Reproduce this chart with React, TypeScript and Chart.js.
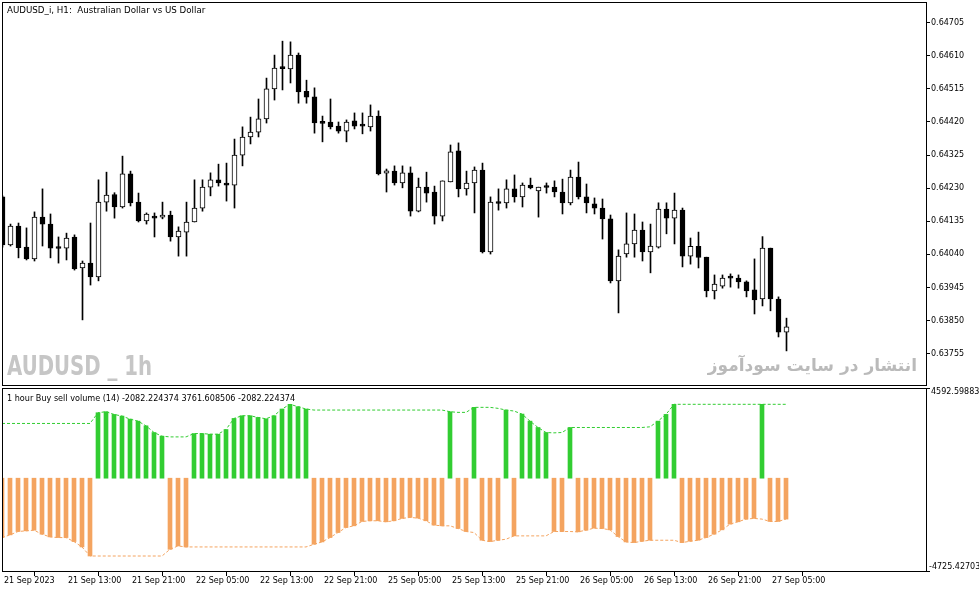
import React, { useEffect, useRef } from "react";
import { Chart, registerables } from "chart.js";

Chart.register(...registerables);

// ---- Price data (AUDUSD_i, H1), one entry per hourly bar ----
const opens = [
  0.64205, 0.64067, 0.64121, 0.64061, 0.64027, 0.64147, 0.64127, 0.6406, 0.64058, 0.6409,
  0.64001, 0.64015, 0.63975, 0.6419, 0.64212, 0.64176, 0.64271, 0.6419, 0.64136, 0.6415,
  0.64147, 0.64153, 0.6409, 0.64104, 0.64133, 0.64173, 0.64233, 0.64254, 0.64245, 0.64239,
  0.64325, 0.64377, 0.64391, 0.64429, 0.64515, 0.64576, 0.64572, 0.64612, 0.64508, 0.64492,
  0.64419, 0.6442, 0.64408, 0.64394, 0.64423, 0.6441, 0.64406, 0.64437, 0.64273, 0.64279,
  0.64245, 0.64274, 0.64164, 0.64233, 0.64219, 0.6415, 0.64248, 0.64337, 0.64228, 0.64245,
  0.64282, 0.64047, 0.64189, 0.64188, 0.64228, 0.64205, 0.64239, 0.64222, 0.64234, 0.64233,
  0.64219, 0.64188, 0.64262, 0.64205, 0.64185, 0.64173, 0.64142, 0.63964, 0.64041, 0.6407,
  0.6411, 0.64047, 0.64061, 0.6417, 0.64144, 0.64167, 0.64035, 0.64063, 0.64032, 0.63935,
  0.63949, 0.63975, 0.63972, 0.63961, 0.63938, 0.63912, 0.64058, 0.63912, 0.63817,
];
const highs = [
  0.64208, 0.64127, 0.6413, 0.64116, 0.64162, 0.64228, 0.64156, 0.6409, 0.64101, 0.64096,
  0.64021, 0.6413, 0.64254, 0.64276, 0.64217, 0.64322, 0.64279, 0.64216, 0.64159, 0.64159,
  0.6419, 0.64164, 0.64119, 0.6419, 0.64254, 0.64254, 0.64274, 0.64299, 0.64302, 0.64371,
  0.64406, 0.64434, 0.64486, 0.64546, 0.64612, 0.64652, 0.6465, 0.64618, 0.6454, 0.64518,
  0.64437, 0.64486, 0.6442, 0.64426, 0.64446, 0.64446, 0.64469, 0.64452, 0.64285, 0.64294,
  0.64294, 0.64291, 0.64259, 0.64276, 0.64236, 0.64251, 0.64354, 0.6436, 0.64279, 0.64291,
  0.64302, 0.64205, 0.64228, 0.64254, 0.64268, 0.64245, 0.64259, 0.64233, 0.64245, 0.64251,
  0.64256, 0.64282, 0.64305, 0.64242, 0.64202, 0.64199, 0.64153, 0.64053, 0.64159, 0.64156,
  0.64133, 0.64127, 0.64188, 0.64188, 0.64216, 0.64173, 0.64087, 0.64104, 0.64032, 0.63981,
  0.63981, 0.63984, 0.63981, 0.63964, 0.64027, 0.64091, 0.64058, 0.63918, 0.63857,
];
const lows = [
  0.64061, 0.64064, 0.6403, 0.64024, 0.64021, 0.64064, 0.6403, 0.64015, 0.64024, 0.63995,
  0.63852, 0.63952, 0.63964, 0.64164, 0.64144, 0.64173, 0.64179, 0.64133, 0.64127, 0.6409,
  0.64142, 0.64078, 0.64035, 0.64035, 0.64133, 0.64164, 0.64208, 0.64236, 0.64193, 0.64173,
  0.64294, 0.64357, 0.64377, 0.64417, 0.64483, 0.64512, 0.64532, 0.64474, 0.64474, 0.64388,
  0.64363, 0.644, 0.64388, 0.64363, 0.644, 0.64386, 0.64394, 0.64268, 0.64219, 0.64239,
  0.64231, 0.6415, 0.64162, 0.6419, 0.64127, 0.64136, 0.64248, 0.64205, 0.6421, 0.64159,
  0.64044, 0.64041, 0.64167, 0.64173, 0.6419, 0.64176, 0.64228, 0.64147, 0.64216, 0.64205,
  0.64156, 0.64182, 0.64199, 0.64159, 0.64156, 0.64084, 0.63958, 0.63872, 0.64032, 0.64032,
  0.64021, 0.63987, 0.64058, 0.64099, 0.6407, 0.64004, 0.64012, 0.64001, 0.63918, 0.63912,
  0.63943, 0.63946, 0.63943, 0.63918, 0.63869, 0.63892, 0.63878, 0.63803, 0.63763,
];
const closes = [
  0.64067, 0.64121, 0.64059, 0.64027, 0.64147, 0.64127, 0.64058, 0.64057, 0.64087, 0.63998,
  0.64015, 0.63975, 0.6419, 0.6421, 0.64176, 0.64271, 0.64188, 0.64136, 0.64156, 0.64144,
  0.64153, 0.6409, 0.64107, 0.64133, 0.64173, 0.64233, 0.64254, 0.64245, 0.64239, 0.64325,
  0.64377, 0.64391, 0.64429, 0.64515, 0.64575, 0.64573, 0.64612, 0.64506, 0.64491, 0.64417,
  0.64416, 0.64406, 0.64394, 0.6442, 0.64408, 0.64408, 0.64437, 0.64271, 0.6428, 0.64245,
  0.64274, 0.64164, 0.64233, 0.64216, 0.6415, 0.64251, 0.64334, 0.64228, 0.64245, 0.64282,
  0.64047, 0.6419, 0.64186, 0.64228, 0.64205, 0.64239, 0.64231, 0.64233, 0.64232, 0.64219,
  0.64188, 0.64262, 0.64205, 0.64188, 0.64173, 0.64142, 0.63964, 0.64035, 0.6407, 0.6411,
  0.64047, 0.64064, 0.6417, 0.64144, 0.64167, 0.64035, 0.64063, 0.64031, 0.63935, 0.63955,
  0.63972, 0.63972, 0.63961, 0.63935, 0.63909, 0.64058, 0.63912, 0.63817, 0.63832,
];

// ---- Indicator: 1 hour Buy sell volume (14) ----
const buyLine = [
  2787, 2787, 2787, 2787, 2787, 2787, 2787, 2787, 2787, 2787, 2787, 2787,
  3334, 3385, 3248, 3163, 3009, 2906, 2667, 2326, 2138,
  2103, 2103, 2103,
  2274, 2274, 2240, 2240, 2479, 3043, 3180, 3180, 3094, 3026, 3180, 3522, 3762, 3641, 3522,
  3470, 3470, 3470, 3470, 3470, 3470, 3470, 3470, 3470, 3470, 3470, 3470, 3470, 3470, 3470, 3470, 3470,
  3385, 3351, 3351, 3607, 3607, 3607, 3556, 3470, 3419, 3265, 2906, 2582, 2326, 2308, 2326, 2582,
  2582, 2582, 2582, 2582, 2582, 2582, 2582, 2582, 2582,
  2616, 2906, 3248, 3762,
  3762, 3762, 3762, 3762, 3762, 3762, 3762, 3762, 3762, 3762, 3762, 3762, 3762, 3761.608506,
];
const sellLine = [
  -3023, -2886, -2715, -2681, -2647, -2852, -2989, -3023, -3023, -3228, -3501, -3962,
  -3962, -3962, -3962, -3962, -3962, -3962, -3962, -3962, -3962,
  -3621, -3450, -3501,
  -3501, -3501, -3501, -3501, -3501, -3501, -3501, -3501, -3501, -3501, -3501, -3501, -3501, -3501, -3501,
  -3364, -3245, -3023, -2766, -2510, -2425, -2203, -2168, -2168, -2220, -2168, -2049, -1997, -2032, -2168, -2390, -2425,
  -2425, -2561, -2715, -2766, -3159, -3228, -3159, -3108, -2937, -2937, -2937, -2937, -2937,
  -2715, -2715, -2715, -2732, -2647, -2544, -2561, -2630, -2971, -3245, -3279, -3211, -3159,
  -3159, -3159, -3159,
  -3279, -3211, -3159, -3023, -2852, -2630, -2339, -2220, -2083, -2049, -2083, -2203, -2203, -2082.224374,
];
const histogram = [
  -3023, -2886, -2715, -2681, -2647, -2852, -2989, -3023, -3023, -3228, -3501, -3962,
  3334, 3385, 3248, 3163, 3009, 2906, 2667, 2326, 2138,
  -3621, -3450, -3501,
  2274, 2274, 2240, 2240, 2479, 3043, 3180, 3180, 3094, 3026, 3180, 3522, 3762, 3641, 3522,
  -3364, -3245, -3023, -2766, -2510, -2425, -2203, -2168, -2168, -2220, -2168, -2049, -1997, -2032, -2168, -2390, -2425,
  3385, -2561, -2715, 3607, -3159, -3228, -3159, 3470, -2937, 3265, 2906, 2582, 2326,
  -2715, -2715, 2582, -2732, -2647, -2544, -2561, -2630, -2971, -3245, -3279, -3211, -3159,
  2906, 3248, 3762,
  -3279, -3211, -3159, -3023, -2852, -2630, -2339, -2220, -2083, -2049, 3762, -2203, -2203, -2082.224374,
];

// ---- Axis ticks ----
const timeTickIndex = [0, 8, 16, 24, 32, 40, 48, 56, 64, 72, 80, 88, 96];
const timeTickLabels = [
  "21 Sep 2023", "21 Sep 13:00", "21 Sep 21:00", "22 Sep 05:00", "22 Sep 13:00",
  "22 Sep 21:00", "25 Sep 05:00", "25 Sep 13:00", "25 Sep 21:00", "26 Sep 05:00",
  "26 Sep 13:00", "26 Sep 21:00", "27 Sep 05:00",
];
const priceTicks = [
  0.64705, 0.6461, 0.64515, 0.6442, 0.64325, 0.6423, 0.64135, 0.6404, 0.63945, 0.6385, 0.63755,
];
const volumeMax = 4592.59883;
const volumeMin = -4725.42703;

const PRICE_MIN = 0.636651;
const PRICE_MAX = 0.647644;

const GREEN = "#32CD32";
const ORANGE = "#F4A460";
const tickFont = { family: "DejaVu Sans", size: 8 };

const borderPlugin = {
  id: "panelBorder",
  afterDraw(chart: any) {
    const { ctx, chartArea } = chart;
    const l = Math.round(chartArea.left);
    const t = Math.round(chartArea.top);
    const r = Math.round(chartArea.right);
    const b = Math.round(chartArea.bottom);
    ctx.save();
    ctx.strokeStyle = "#000";
    ctx.lineWidth = 1;
    ctx.strokeRect(l + 0.5, t + 0.5, r - l, b - t);
    ctx.restore();
  },
};

// the zero-width second price axis shares the label column of the first one
const labelColumnPlugin = {
  id: "labelColumn",
  afterLayout(chart: any) {
    const s = chart.scales.y2;
    if (s) s.right = s.left + 53;
  },
};

const zeroPad = (s: any) => {
  s.paddingTop = 0;
  s.paddingBottom = 0;
  s.paddingLeft = 0;
  s.paddingRight = 0;
};

export default function App() {
  const mainRef = useRef<HTMLCanvasElement>(null);
  const subRef = useRef<HTMLCanvasElement>(null);

  useEffect(() => {
    document.body.style.margin = "0";
    const idx = opens.map((_, i) => i);

    const main = new Chart(mainRef.current as HTMLCanvasElement, {
      type: "bar",
      data: {
        datasets: [
          {
            type: "bar",
            data: idx.map((i) => ({ x: i, y: [opens[i], closes[i]] })) as any,
            backgroundColor: (c: any) =>
              closes[c.dataIndex] >= opens[c.dataIndex] ? "#ffffff" : "#000000",
            borderColor: "#000000",
            borderWidth: 1,
            borderSkipped: false,
            barThickness: 5,
            minBarLength: 2,
            grouped: false,
            order: 0,
          } as any,
          {
            type: "bar",
            data: idx.map((i) => ({ x: i, y: [lows[i], highs[i]] })) as any,
            backgroundColor: "#000000",
            borderWidth: 0,
            barThickness: 1,
            grouped: false,
            order: 1,
          } as any,
        ],
      },
      options: {
        responsive: false,
        animation: false,
        events: [],
        layout: { padding: { left: 2, top: 2, right: 0, bottom: 1 } },
        plugins: { legend: { display: false }, tooltip: { enabled: false } },
        scales: {
          x: {
            type: "linear",
            display: false,
            offset: false,
            min: -0.0625,
            max: 115.4375,
          },
          y: {
            type: "linear",
            position: "right",
            min: PRICE_MIN,
            max: PRICE_MAX,
            afterFit: (s: any) => {
              s.width = 53;
              zeroPad(s);
            },
            afterBuildTicks: (s: any) => {
              s.ticks = priceTicks.map((v) => ({ value: v }));
            },
            ticks: {
              autoSkip: false,
              padding: 1,
              color: "#000",
              font: tickFont,
              callback: (v: any) => Number(v).toFixed(5),
            },
            grid: { drawOnChartArea: false, drawTicks: true, tickLength: 4, color: "#000" },
            border: { display: false },
          },
        } as any,
      },
      plugins: [borderPlugin],
    });

    const sub = new Chart(subRef.current as HTMLCanvasElement, {
      type: "bar",
      data: {
        datasets: [
          {
            type: "bar",
            data: idx.map((i) => ({ x: i, y: histogram[i] })) as any,
            backgroundColor: (c: any) => (histogram[c.dataIndex] >= 0 ? GREEN : ORANGE),
            borderWidth: 0,
            barThickness: 4,
            grouped: false,
            order: 0,
            yAxisID: "y",
          } as any,
          {
            type: "line",
            data: idx.map((i) => ({ x: i, y: buyLine[i] })) as any,
            borderColor: GREEN,
            borderWidth: 1,
            borderDash: [3, 2],
            pointRadius: 0,
            tension: 0,
            order: 1,
            yAxisID: "y",
          } as any,
          {
            type: "line",
            data: idx.map((i) => ({ x: i, y: sellLine[i] })) as any,
            borderColor: ORANGE,
            borderWidth: 1,
            borderDash: [3, 2],
            pointRadius: 0,
            tension: 0,
            order: 1,
            yAxisID: "y",
          } as any,
        ],
      },
      options: {
        responsive: false,
        animation: false,
        events: [],
        layout: { padding: { left: 2, top: 2, right: 0, bottom: 0 } },
        plugins: { legend: { display: false }, tooltip: { enabled: false } },
        scales: {
          x: {
            type: "linear",
            position: "bottom",
            offset: false,
            min: 0,
            max: 115.5,
            afterFit: (s: any) => {
              s.height = 21;
              zeroPad(s);
            },
            afterBuildTicks: (s: any) => {
              s.ticks = timeTickIndex.map((v) => ({ value: v }));
            },
            ticks: {
              autoSkip: false,
              maxRotation: 0,
              minRotation: 0,
              align: "start",
              padding: 0,
              labelOffset: 2,
              color: "#000",
              font: tickFont,
              callback: (_v: any, i: number) => timeTickLabels[i],
            },
            grid: { drawOnChartArea: false, drawTicks: true, tickLength: 5, color: "#000" },
            border: { display: false },
          },
          y: {
            type: "linear",
            position: "right",
            weight: 1,
            min: volumeMin,
            max: volumeMax,
            afterFit: (s: any) => {
              s.width = 53;
              zeroPad(s);
            },
            afterBuildTicks: (s: any) => {
              s.ticks = [{ value: volumeMax }];
            },
            ticks: {
              autoSkip: false,
              align: "start",
              padding: 1,
              color: "#000",
              font: tickFont,
              callback: (v: any) => Number(v).toFixed(5),
            },
            grid: { drawOnChartArea: false, drawTicks: true, tickLength: 4, color: "#000" },
            border: { display: false },
          },
          y2: {
            type: "linear",
            position: "right",
            weight: 0,
            display: true,
            min: volumeMin,
            max: volumeMax,
            afterFit: (s: any) => {
              s.width = 0;
              zeroPad(s);
            },
            afterBuildTicks: (s: any) => {
              s.ticks = [{ value: volumeMin }];
            },
            ticks: {
              autoSkip: false,
              align: "end",
              padding: -1,
              color: "#000",
              font: tickFont,
              callback: (v: any) => Number(v).toFixed(5),
            },
            grid: { drawOnChartArea: false, drawTicks: true, tickLength: 4, color: "#000" },
            border: { display: false },
          },
        } as any,
      },
      plugins: [borderPlugin, labelColumnPlugin],
    });

    return () => {
      main.destroy();
      sub.destroy();
    };
  }, []);

  const last = histogram.length - 1;
  const legendText =
    "1 hour Buy sell volume (14) " +
    histogram[last].toFixed(6) + " " + buyLine[last].toFixed(6) + " " + sellLine[last].toFixed(6);

  return (
    <div style={{ position: "relative", width: 979, height: 592, background: "#fff", overflow: "hidden" }}>
      <canvas ref={mainRef} width={979} height={386} style={{ position: "absolute", left: 0, top: 0 }} />
      <canvas ref={subRef} width={979} height={206} style={{ position: "absolute", left: 0, top: 386 }} />
      <div
        style={{
          position: "absolute", left: 7, top: 4, fontFamily: "DejaVu Sans", fontSize: 8.7,
          lineHeight: "12px", color: "#000", whiteSpace: "pre",
        }}
      >
        {"AUDUSD_i, H1:  Australian Dollar vs US Dollar"}
      </div>
      <div
        style={{
          position: "absolute", left: 7, top: 352, fontFamily: "DejaVu Sans", fontWeight: "bold",
          fontSize: 27.4, lineHeight: "27.4px", color: "#c6c6c6", whiteSpace: "pre",
          transform: "scaleX(0.72)", transformOrigin: "left top",
        }}
      >
        {"AUDUSD _ 1h"}
      </div>
      <div
        style={{
          position: "absolute", right: 62, top: 352, fontFamily: "DejaVu Sans", fontWeight: "bold",
          fontSize: 17, lineHeight: "26px", color: "#bababa", whiteSpace: "pre", direction: "rtl",
        }}
      >
        {"انتشار در سایت سودآموز"}
      </div>
      <div
        style={{
          position: "absolute", left: 7, top: 392, fontFamily: "DejaVu Sans", fontSize: 8.1,
          lineHeight: "12px", color: "#000", whiteSpace: "pre",
        }}
      >
        {legendText}
      </div>
    </div>
  );
}
